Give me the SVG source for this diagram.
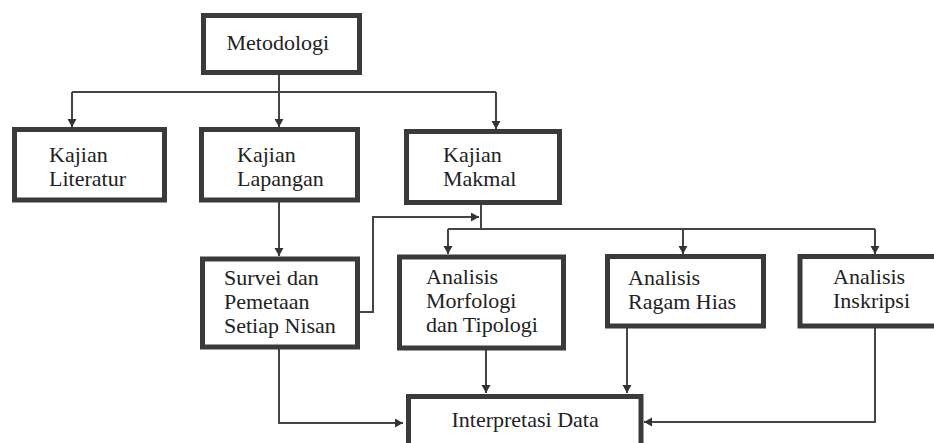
<svg xmlns="http://www.w3.org/2000/svg" width="934" height="443" viewBox="0 0 934 443">
<style>
.box{fill:#fff;stroke:#3a3a3a;stroke-width:5}
.t{font-family:'Liberation Serif',Tinos,'Times New Roman',Times,'DejaVu Serif',serif;font-size:22px;fill:#222}
.c{fill:none;stroke:#444;stroke-width:2}
</style>
<defs>
<marker id="ah" markerUnits="userSpaceOnUse" markerWidth="9" markerHeight="10" refX="8" refY="4.5" orient="auto">
<path d="M0,0 L8,4.5 L0,9 Z" fill="#333"/>
</marker>
</defs>
<rect width="934" height="443" fill="#fff"/>
<g id="connectors">
<path class="c" d="M279,75 V127" marker-end="url(#ah)"/>
<path class="c" d="M72,92 H496"/>
<path class="c" d="M72,92 V127" marker-end="url(#ah)"/>
<path class="c" d="M496,92 V129" marker-end="url(#ah)"/>
<path class="c" d="M279,202 V256" marker-end="url(#ah)"/>
<path class="c" d="M360,312 H373 V217 H479" marker-end="url(#ah)"/>
<path class="c" d="M481,205 V229"/>
<path class="c" d="M448,229 H875"/>
<path class="c" d="M448,229 V254" marker-end="url(#ah)"/>
<path class="c" d="M683,229 V254" marker-end="url(#ah)"/>
<path class="c" d="M875,229 V254" marker-end="url(#ah)"/>
<path class="c" d="M279,349 V423 H403" marker-end="url(#ah)"/>
<path class="c" d="M486,350 V393" marker-end="url(#ah)"/>
<path class="c" d="M627,328 V393" marker-end="url(#ah)"/>
<path class="c" d="M875,328 V422 H644" marker-end="url(#ah)"/>
</g>
<g id="metodologi">
<rect class="box" x="203.5" y="15.5" width="156" height="57"/>
<text class="t" x="226.5" y="50" font-size="23">Metodologi</text>
</g>
<g id="kajian-literatur">
<rect class="box" x="14.5" y="129.5" width="150" height="70.5"/>
<text class="t"><tspan x="49" y="162">Kajian</tspan><tspan x="49" y="186">Literatur</tspan></text>
</g>
<g id="kajian-lapangan">
<rect class="box" x="201.5" y="129.5" width="156" height="70.5"/>
<text class="t"><tspan x="237" y="162">Kajian</tspan><tspan x="237" y="186">Lapangan</tspan></text>
</g>
<g id="kajian-makmal">
<rect class="box" x="406.5" y="131.5" width="153" height="71"/>
<text class="t"><tspan x="443" y="162">Kajian</tspan><tspan x="443" y="186">Makmal</tspan></text>
</g>
<g id="survei">
<rect class="box" x="202.5" y="259" width="155" height="88"/>
<text class="t"><tspan x="224" y="285">Survei dan</tspan><tspan x="224" y="309">Pemetaan</tspan><tspan x="224" y="333">Setiap Nisan</tspan></text>
</g>
<g id="analisis-morfologi">
<rect class="box" x="399.5" y="257" width="164" height="91"/>
<text class="t"><tspan x="426" y="283.5">Analisis</tspan><tspan x="426" y="307.5">Morfologi</tspan><tspan x="426" y="331.5">dan Tipologi</tspan></text>
</g>
<g id="analisis-ragam-hias">
<rect class="box" x="607.5" y="256.5" width="156" height="69.5"/>
<text class="t"><tspan x="628" y="285">Analisis</tspan><tspan x="628" y="309">Ragam Hias</tspan></text>
</g>
<g id="analisis-inskripsi">
<rect class="box" x="800" y="256.5" width="140" height="69.5"/>
<text class="t"><tspan x="833" y="284">Analisis</tspan><tspan x="833" y="308">Inskripsi</tspan></text>
</g>
<g id="interpretasi-data">
<rect class="box" x="408.5" y="396.5" width="232.5" height="60"/>
<text class="t" x="451.5" y="426.5">Interpretasi Data</text>
</g>
</svg>
